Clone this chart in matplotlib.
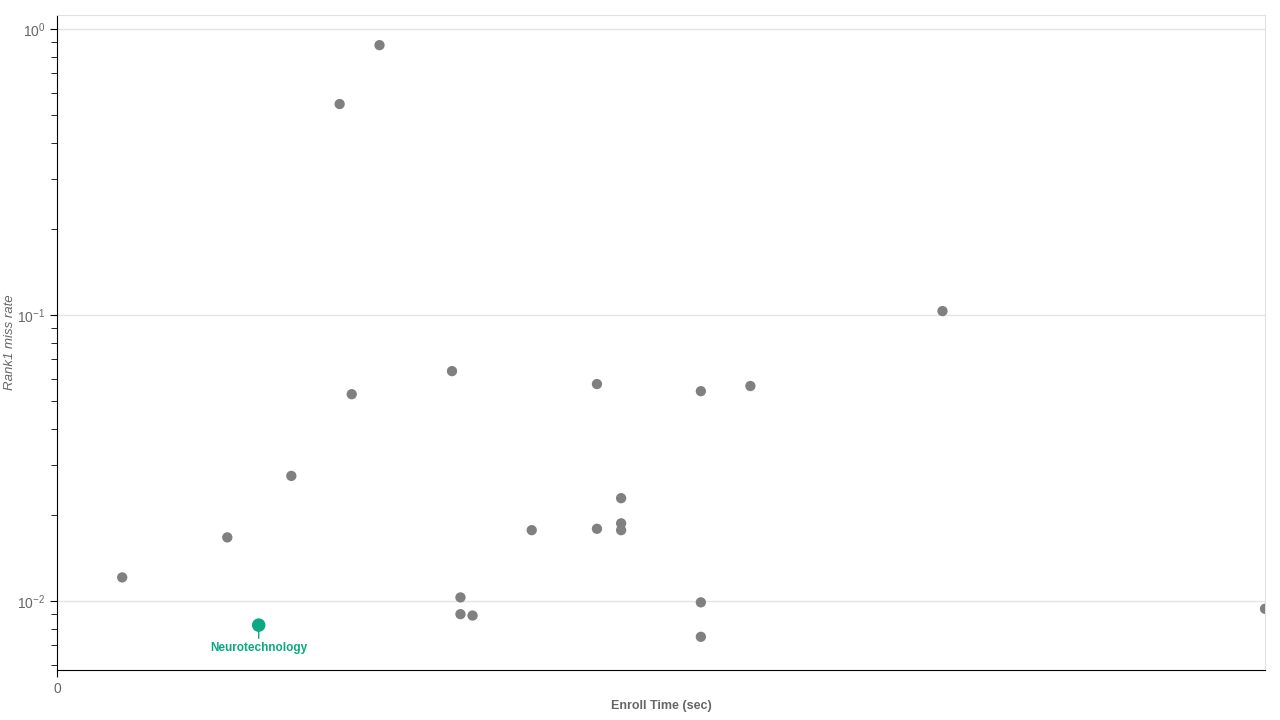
import numpy as np
import matplotlib
matplotlib.use("Agg")
import matplotlib.pyplot as plt

plt.rcParams["font.family"] = ["Liberation Sans", "DejaVu Sans"]
plt.rcParams["mathtext.default"] = "regular"

# Enroll time (sec, relative scale) and rank-1 miss rate per vendor
enroll_time = [0.054, 0.141, 0.194, 0.234, 0.244, 0.267, 0.327, 0.334, 0.334,
               0.344, 0.393, 0.447, 0.447, 0.467, 0.467, 0.467, 0.533, 0.533,
               0.533, 0.574, 0.733, 1.0]
miss_rate = [0.0121, 0.0167, 0.0274, 0.547, 0.0529, 0.879, 0.0637, 0.0103,
             0.0090, 0.0089, 0.0177, 0.0574, 0.0179, 0.0229, 0.0187, 0.0177,
             0.0542, 0.0099, 0.0075, 0.0565, 0.1033, 0.0094]

highlight_name = "Neurotechnology"
highlight_time = 0.167
highlight_rate = 0.00824

gray = "#808080"
green = "#0aa883"
text_gray = "#666666"

fig = plt.figure(figsize=(12.8, 7.2), dpi=100)
ax = fig.add_axes([0.0445, 0.0694, 0.9438, 0.9097])

ax.scatter(enroll_time, miss_rate, s=55, color=gray, edgecolors="none", zorder=3)
ax.scatter([highlight_time], [highlight_rate], s=95, color=green,
           edgecolors="none", zorder=4)
ax.annotate(highlight_name, (highlight_time, highlight_rate),
            xytext=(0, -12), textcoords="offset points",
            ha="center", va="top", fontsize=8.5, fontweight="bold", color=green,
            arrowprops=dict(arrowstyle="-", color=green, lw=1,
                            shrinkA=0.5, shrinkB=4.5))

ax.set_yscale("log")
ax.set_ylim(0.00574, 1.12)
ax.set_xlim(0, 1.0)
ax.set_xticks([0])
ax.set_xticklabels(["0"])

ax.grid(axis="y", which="major", color="#e4e4e4", lw=1)
ax.set_axisbelow(True)

for side in ("top", "right"):
    ax.spines[side].set_color("#e0e0e0")
for side in ("left", "bottom"):
    ax.spines[side].set_color("black")

ax.tick_params(axis="both", which="both", colors="black", labelcolor=text_gray,
               labelsize=10, direction="out")
ax.tick_params(axis="y", which="major", length=5)
ax.tick_params(axis="y", which="minor", length=4)
ax.tick_params(axis="x", length=5)

ax.set_xlabel("Enroll Time (sec)", fontsize=9, fontweight="bold",
              color=text_gray)
ax.xaxis.set_label_coords(0.5, -0.045)
ax.set_ylabel("Rank1 miss rate", fontsize=9.5, fontstyle="italic",
              color=text_gray)
ax.yaxis.set_label_coords(-0.034, 0.5)

fig.savefig("out.png", dpi=100)
